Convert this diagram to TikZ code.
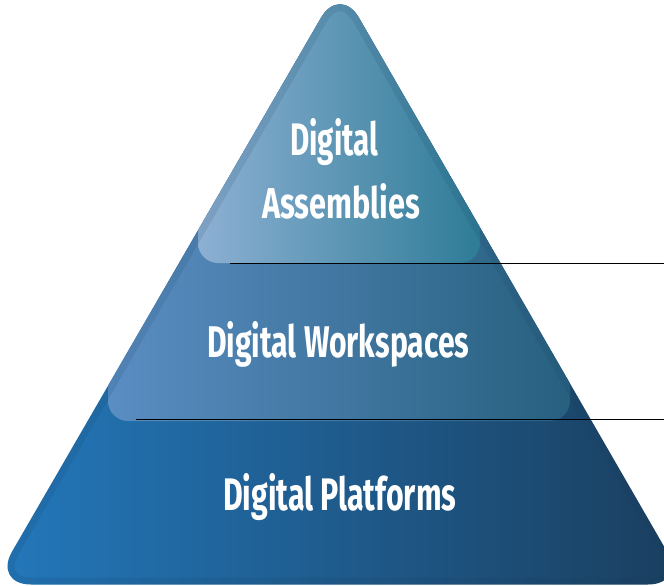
\documentclass[tikz,border=0pt]{standalone}
\usepackage{fontspec}
\newfontfamily\labfont{Fira Sans}
\usepackage{graphicx}
\definecolor{baseL}{HTML}{2378BB}
\definecolor{baseM}{HTML}{1C5D8F}
\definecolor{baseR}{HTML}{1A3E5E}
\definecolor{midL}{HTML}{5A8DC2}
\definecolor{midM}{HTML}{4482AA}
\definecolor{midR}{HTML}{27607F}
\definecolor{topL}{HTML}{8DB0D3}
\definecolor{topM}{HTML}{64A3C2}
\definecolor{topR}{HTML}{2E7C97}
\definecolor{edgeC}{HTML}{17395A}
\newcommand\fitlbl[3]{\resizebox{#1pt}{#2pt}{\labfont\bfseries #3}}
\tikzset{
  lbl/.style={anchor=base west, inner sep=0pt, text=white},
  tierline/.style={draw=black, line width=1.1pt},
}
\begin{document}
\begin{tikzpicture}[x=1pt,y=-1pt]
\useasboundingbox (0,0) rectangle (664,586);
\def\tri{(340,584.5) -- (686,584.5) -- (340,-15) -- (-7,584.5) -- cycle}
\begin{scope}
  \clip[rounded corners=38pt] \tri;
  \shade[left color=baseL, middle color=baseM, right color=baseR] (-7,-20) rectangle (686,590);
  \shade[rounded corners=20pt, left color=midL, middle color=midM, right color=midR] (108,-60) rectangle (570,421);
  \shade[rounded corners=20pt, left color=topL, middle color=topM, right color=topR] (198,-60) rectangle (480,263);
  \draw[rounded corners=38pt, line width=14pt, draw=edgeC, draw opacity=0.12] \tri;
\end{scope}
\node[lbl] (t1a) at (290,155) {\fitlbl{88}{37}{Digital}};
\node[lbl] (t1b) at (262,218) {\fitlbl{158}{35}{Assemblies}};
\node[lbl] (t2) at (207,357) {\fitlbl{262}{36}{Digital Workspaces}};
\node[lbl] (t3) at (223,510) {\fitlbl{233}{37}{Digital Platforms}};
\coordinate (l1a) at (230,263.5);
\coordinate (l1b) at (664,263.5);
\coordinate (l2a) at (136,419.5);
\coordinate (l2b) at (664,419.5);
\draw[tierline] (l1a) -- (l1b);
\draw[tierline] (l2a) -- (l2b);
\end{tikzpicture}
\end{document}
